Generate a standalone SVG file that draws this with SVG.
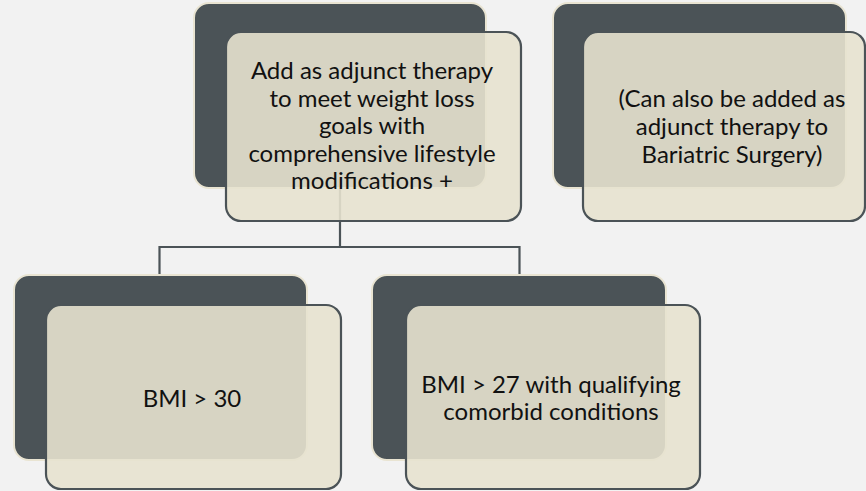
<svg xmlns="http://www.w3.org/2000/svg" width="866" height="491" viewBox="0 0 866 491">
<style>
.bg{fill:#f2f2f2}
.back{fill:#4b5357;stroke:#e9e4d2;stroke-width:2}
.front{fill:#e7e2cf;fill-opacity:0.9;stroke:#4b5357;stroke-width:2.2}
.conn{fill:none;stroke:#4b5357;stroke-width:2.2}
text{font-family:Lato,"Liberation Sans",sans-serif;font-size:24px;fill:#111;text-anchor:middle}
</style>
<rect class="bg" x="0" y="0" width="866" height="491"/>
<g id="connectors">
<path class="conn" d="M340,188 V247 M159.5,275 V247 H519.5 V274"/>
</g>
<g id="node-top">
<rect class="back" x="194" y="3" width="292" height="185" rx="15"/>
<rect class="front" x="226" y="32" width="295" height="189" rx="15"/>
<text x="372" y="79">Add as adjunct therapy</text>
<text x="372" y="107">to meet weight loss</text>
<text x="372" y="134">goals with</text>
<text x="372" y="162">comprehensive lifestyle</text>
<text x="372" y="189">modifications +</text>
</g>
<g id="node-bariatric">
<rect class="back" x="553" y="3" width="293" height="185" rx="15"/>
<rect class="front" x="583" y="32" width="282" height="189" rx="15"/>
<text x="732" y="107">(Can also be added as</text>
<text x="732" y="135">adjunct therapy to</text>
<text x="732" y="163">Bariatric Surgery)</text>
</g>
<g id="node-bmi30">
<rect class="back" x="14" y="275" width="293" height="185" rx="15"/>
<rect class="front" x="46" y="305" width="295" height="184" rx="15"/>
<text x="192" y="407">BMI &gt; 30</text>
</g>
<g id="node-bmi27">
<rect class="back" x="372" y="275" width="294" height="185" rx="15"/>
<rect class="front" x="406" y="305" width="294" height="184" rx="15"/>
<text x="551" y="393">BMI &gt; 27 with qualifying</text>
<text x="551" y="420">comorbid conditions</text>
</g>
</svg>
